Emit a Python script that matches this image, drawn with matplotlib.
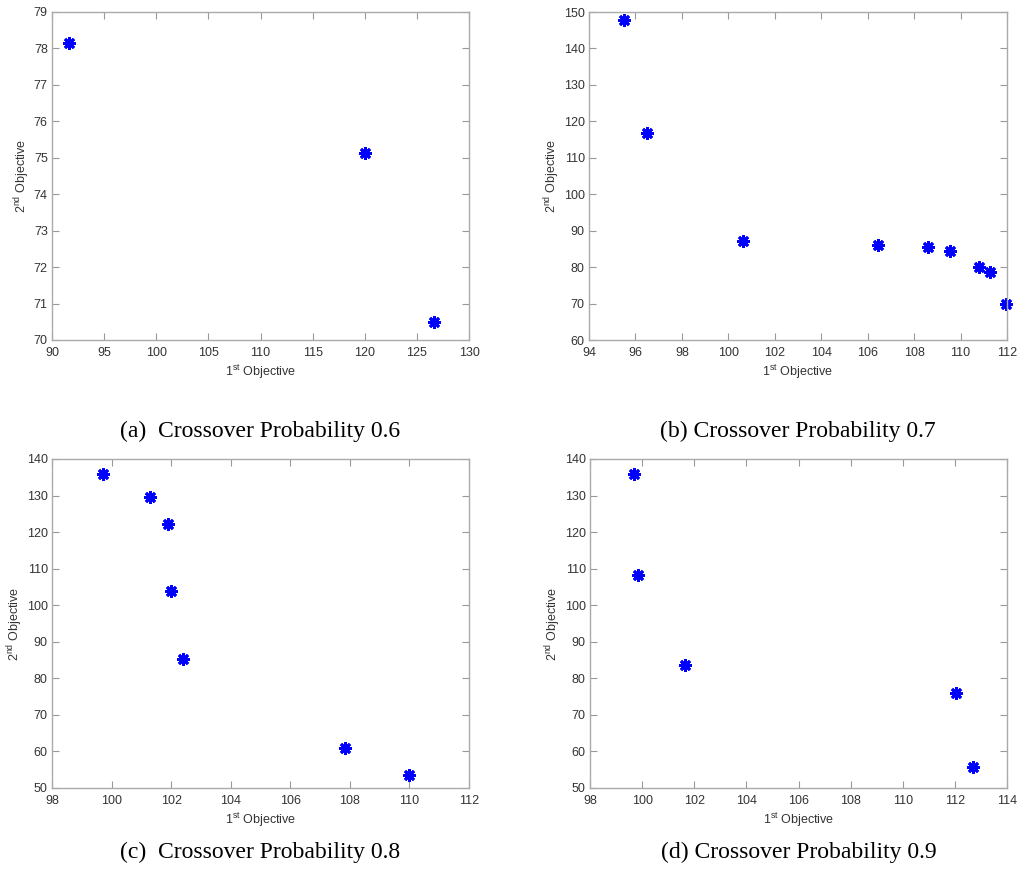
import numpy as np
import matplotlib
matplotlib.use("Agg")
import matplotlib.pyplot as plt

plt.rcParams["font.family"] = ["Liberation Sans", "DejaVu Sans"]
plt.rcParams["mathtext.fontset"] = "custom"
plt.rcParams["mathtext.rm"] = "Liberation Sans"

# data
x_a = [91.6, 120.0, 126.6]
y_a = [78.15, 75.12, 70.5]

x_b = [95.5, 96.5, 100.65, 106.45, 108.6, 109.55, 110.8, 111.25, 111.95]
y_b = [147.8, 116.8, 87.3, 86.2, 85.4, 84.3, 80.0, 78.6, 70.0]

x_c = [99.7, 101.3, 101.9, 102.0, 102.4, 107.85, 110.0]
y_c = [135.8, 129.5, 122.3, 104.0, 85.2, 61.0, 53.6]

x_d = [99.7, 99.85, 101.65, 112.05, 112.7]
y_d = [135.8, 108.2, 83.6, 76.0, 55.7]

captions = ["(a)  Crossover Probability 0.6", "(b) Crossover Probability 0.7",
            "(c)  Crossover Probability 0.8", "(d) Crossover Probability 0.9"]

W, H = 1024, 874
fig = plt.figure(figsize=(W / 100, H / 100), dpi=100)

# pixel boxes: left, top, right, bottom
boxes = [(52, 12, 469, 340), (589, 12, 1007, 340),
         (52, 459, 469, 788), (590, 459, 1007, 788)]
limits = [((90, 130), np.arange(90, 131, 5), (70, 79), np.arange(70, 80, 1)),
          ((94, 112), np.arange(94, 113, 2), (60, 150), np.arange(60, 151, 10)),
          ((98, 112), np.arange(98, 113, 2), (50, 140), np.arange(50, 141, 10)),
          ((98, 114), np.arange(98, 115, 2), (50, 140), np.arange(50, 141, 10))]
caption_y = [431, 431, 852, 852]
series = [(x_a, y_a), (x_b, y_b), (x_c, y_c), (x_d, y_d)]

for i in range(4):
    l, t, r, b = boxes[i]
    ax = fig.add_axes([l / W, 1 - b / H, (r - l) / W, (b - t) / H])
    xs, ys = series[i]
    ax.plot(xs, ys, linestyle="none", marker=(8, 2, 0), color="#0000ff",
            markersize=9, markeredgewidth=2.0, clip_on=False)
    xl, xt, yl, yt = limits[i]
    ax.set_xlim(xl)
    ax.set_ylim(yl)
    ax.set_xticks(xt)
    ax.set_yticks(yt)
    ax.tick_params(direction="in", top=True, right=True, length=5,
                   width=0.8, color="#999999", labelsize=9,
                   labelcolor="#333333")
    ax.tick_params(axis="x", pad=5)
    ax.tick_params(axis="y", pad=3)
    for s in ax.spines.values():
        s.set_color("#aaaaaa")
        s.set_linewidth(1.0)
    ax.set_xlabel("1$^{\\rm st}$ Objective", fontsize=9, color="#333333",
                  labelpad=3)
    ax.set_ylabel("2$^{\\rm nd}$ Objective", fontsize=9, color="#333333",
                  labelpad=1)
    fig.text((l + r) / 2 / W, 1 - caption_y[i] / H, captions[i],
             ha="center", va="center", fontsize=17, family="Liberation Serif")

fig.savefig("out.png", dpi=100)
